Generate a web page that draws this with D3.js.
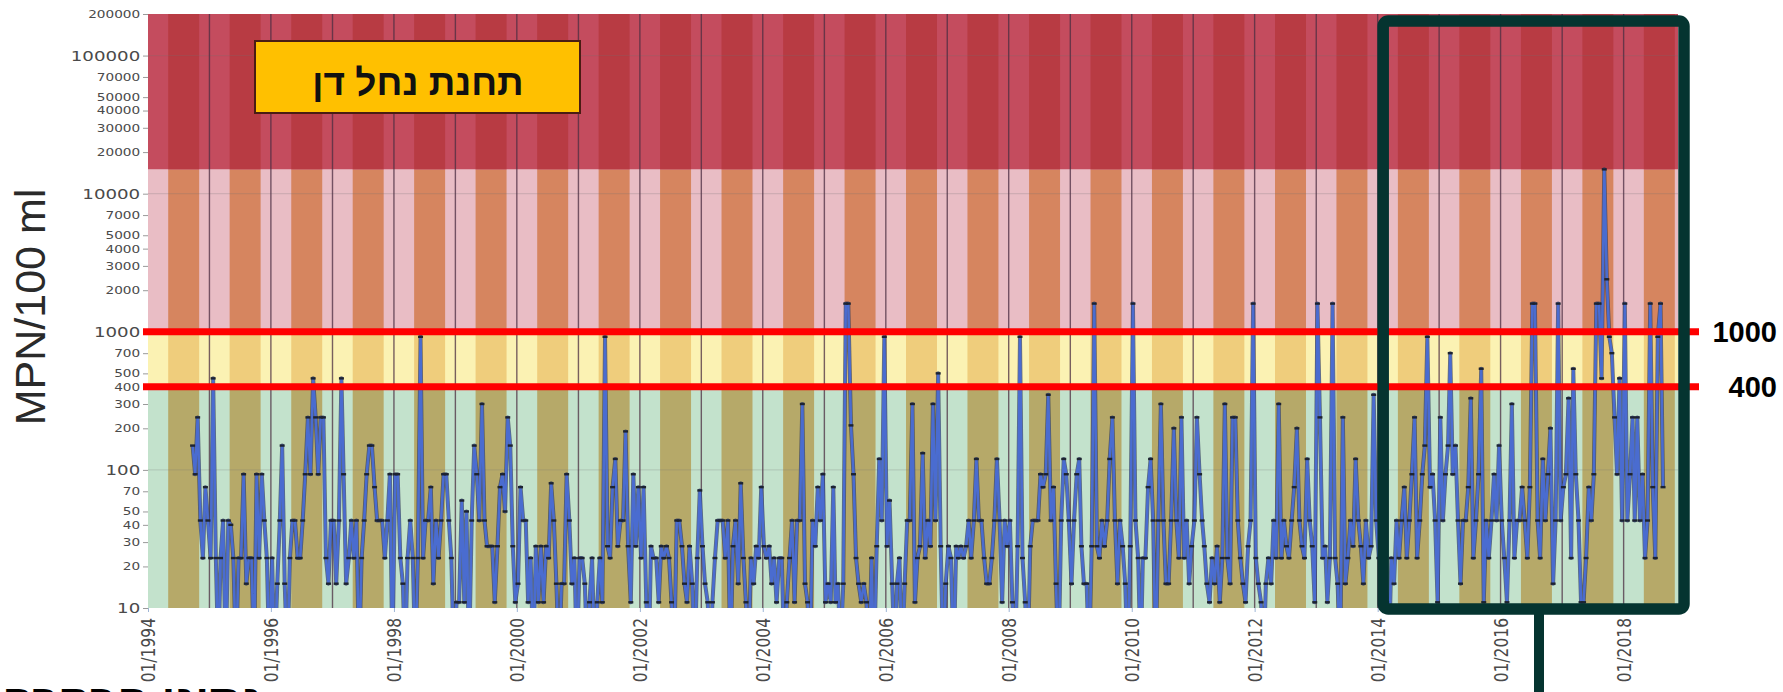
<!DOCTYPE html>
<html>
<head>
<meta charset="utf-8">
<script src="https://cdn.jsdelivr.net/npm/d3@7"></script>
<style>
  html, body { margin: 0; padding: 0; background: #ffffff; overflow: hidden; }
  svg { display: block; }
</style>
</head>
<body>
<svg id="chart" width="1783" height="692"></svg>
<script>
// Faecal coliform counts (MPN/100 ml), two samples per month (8th and 23rd).
// Each yearly list starts at the half-month slot given in `yearly` below.
const v1994 = [150, 93, 240, 43, 23, 75, 43];
const v1995 = [23, 460, 23, 4, 23, 43, 4, 43, 40, 23, 4, 23, 23, 93, 15, 23, 23, 4, 93, 23, 93, 43, 23, 4];
const v1996 = [23, 4, 15, 43, 150, 15, 4, 23, 43, 43, 23, 23, 43, 93, 240, 93, 460, 240, 93, 240, 240, 23, 15, 43];
const v1997 = [43, 15, 43, 460, 93, 15, 23, 43, 23, 43, 4, 23, 43, 93, 150, 150, 75, 43, 43, 43, 23, 43, 93, 4];
const v1998 = [93, 93, 23, 15, 4, 23, 43, 23, 4, 23, 920, 23, 43, 43, 75, 15, 43, 23, 43, 93, 93, 43, 23, 4];
const v1999 = [11, 11, 60, 11, 50, 4, 43, 150, 93, 43, 300, 43, 28, 28, 28, 11, 28, 75, 93, 50, 240, 150, 28, 11];
const v2000 = [15, 75, 43, 43, 11, 23, 4, 28, 11, 28, 11, 28, 23, 80, 43, 15, 4, 15, 15, 93, 43, 15, 23, 4];
const v2001 = [23, 23, 15, 4, 11, 23, 4, 11, 23, 11, 920, 28, 23, 75, 120, 28, 43, 43, 190, 28, 11, 93, 28, 75];
const v2002 = [23, 75, 11, 4, 28, 23, 23, 11, 28, 23, 28, 23, 11, 4, 43, 43, 28, 15, 11, 28, 15, 4, 23, 71];
const v2003 = [28, 15, 11, 4, 11, 23, 43, 43, 43, 23, 43, 4, 28, 43, 15, 80, 23, 11, 4, 23, 15, 28, 23, 75];
const v2004 = [28, 23, 28, 15, 23, 11, 23, 23, 4, 11, 23, 43, 11, 43, 43, 300, 15, 11, 4, 43, 28, 75, 43, 93];
const v2005 = [11, 15, 11, 75, 11, 15, 4, 15, 1600, 1600, 210, 93, 23, 15, 11, 15, 11, 4, 23, 4, 28, 120, 43, 920];
const v2006 = [28, 60, 15, 4, 15, 23, 4, 15, 43, 43, 300, 11, 23, 28, 132, 23, 43, 28, 300, 43, 500, 28, 4, 15];
const v2007 = [28, 23, 4, 28, 23, 28, 23, 28, 43, 23, 43, 120, 43, 43, 23, 15, 15, 23, 43, 120, 43, 11, 43, 28];
const v2008 = [43, 11, 4, 28, 920, 23, 11, 4, 28, 43, 43, 43, 93, 75, 93, 350, 43, 75, 15, 4, 43, 120, 93, 43];
const v2009 = [15, 43, 93, 120, 28, 15, 15, 4, 28, 1600, 28, 23, 43, 28, 43, 120, 240, 43, 15, 43, 28, 15, 4, 28];
const v2010 = [1600, 43, 23, 4, 23, 23, 75, 120, 43, 4, 43, 300, 43, 15, 15, 43, 200, 43, 23, 240, 23, 43, 15, 28];
const v2011 = [43, 240, 93, 43, 28, 15, 11, 23, 15, 28, 11, 23, 300, 23, 15, 240, 240, 43, 23, 15, 11, 28, 43, 1600];
const v2012 = [23, 15, 11, 4, 15, 23, 15, 43, 23, 300, 23, 43, 28, 23, 43, 75, 200, 43, 28, 23, 120, 43, 28, 11];
const v2013 = [1600, 240, 23, 28, 11, 23, 1600, 23, 15, 4, 240, 15, 23, 43, 28, 120, 43, 28, 15, 43, 23, 28, 350, 43];
const v2014 = [23, 43, 23, 11, 4, 23, 15, 43, 23, 43, 75, 23, 43, 93, 240, 23, 43, 93, 150, 920, 75, 93, 43, 11];
const v2015 = [240, 43, 93, 150, 700, 93, 150, 43, 15, 43, 43, 75, 330, 23, 43, 93, 540, 11, 43, 23, 43, 93, 43, 150];
const v2016 = [43, 23, 11, 43, 300, 23, 43, 43, 75, 43, 23, 75, 1600, 1600, 43, 23, 120, 43, 93, 200, 15, 43, 1600, 43];
const v2017 = [75, 93, 330, 23, 540, 93, 43, 11, 11, 23, 75, 43, 93, 1600, 1600, 460, 15000, 2400, 920, 700, 240, 93, 460, 43];
const v2018 = [1600, 43, 93, 240, 43, 240, 43, 93, 23, 43, 1600, 75, 23, 920, 1600, 75];

// [year, values, first half-month slot]
const yearly = [
  [1994, v1994, 17], [1995, v1995, 0], [1996, v1996, 0], [1997, v1997, 0], [1998, v1998, 0],
  [1999, v1999, 0], [2000, v2000, 0], [2001, v2001, 0], [2002, v2002, 0], [2003, v2003, 0],
  [2004, v2004, 0], [2005, v2005, 0], [2006, v2006, 0], [2007, v2007, 0], [2008, v2008, 0],
  [2009, v2009, 0], [2010, v2010, 0], [2011, v2011, 0], [2012, v2012, 0], [2013, v2013, 0],
  [2014, v2014, 0], [2015, v2015, 0], [2016, v2016, 0], [2017, v2017, 0], [2018, v2018, 0]
];

// Quality zones (MPN/100 ml) and the thresholds marked in red
const bandLimits = [10, 400, 1000, 15000, 200000];
const thresholds = [1000, 400];

// Seasons shaded behind the series (dry season May–October)
const seasonYears = [1994, 1995, 1996, 1997, 1998, 1999, 2000, 2001, 2002, 2003, 2004, 2005,
  2006, 2007, 2008, 2009, 2010, 2011, 2012, 2013, 2014, 2015, 2016, 2017, 2018];

// Axis ticks
const yTickValues = [10, 20, 30, 40, 50, 70, 100, 200, 300, 400, 500, 700, 1000, 2000, 3000, 4000,
  5000, 7000, 10000, 20000, 30000, 40000, 50000, 70000, 100000, 200000];
const yMajorTicks = [10, 100, 1000, 10000, 100000];
const xTickLabels = ["01/1994", "01/1996", "01/1998", "01/2000", "01/2002", "01/2004", "01/2006",
  "01/2008", "01/2010", "01/2012", "01/2014", "01/2016", "01/2018"];

const stationName = "תחנת נחל דן";
const footerText = "נתוני הבקרה";
const yTitle = "MPN/100 ml";

// ---------------------------------------------------------------------------
const samples = [];
yearly.forEach(([yr, vals, first]) => {
  vals.forEach((v, k) => {
    const slot = first + k;
    samples.push({ date: new Date(yr, Math.floor(slot / 2), slot % 2 === 0 ? 8 : 23), value: v });
  });
});

const plot = { left: 148, right: 1678, top: 14, bottom: 608 };
const svg = d3.select("#chart");

const x = d3.scaleTime()
  .domain([new Date(1994, 0, 1), new Date(2018, 10, 20)])
  .range([plot.left, plot.right]);
const y = d3.scaleLog()
  .domain([10, 200000])
  .range([plot.bottom, plot.top]);

svg.append("defs").append("clipPath").attr("id", "plotClip")
  .append("rect")
  .attr("x", plot.left).attr("y", plot.top)
  .attr("width", plot.right - plot.left).attr("height", plot.bottom - plot.top);

// zone colours, bottom to top: [wet season, dry season]
const zoneColors = [
  ["#c3e2cc", "#b6a969"],
  ["#fbf2b3", "#efcd7c"],
  ["#e9bdc5", "#d6855f"],
  ["#c44c5e", "#b83b43"]
];

const bg = svg.append("g").attr("clip-path", "url(#plotClip)");
d3.pairs(bandLimits).forEach(([lo, hi], i) => {
  bg.append("rect")
    .attr("x", plot.left).attr("width", plot.right - plot.left)
    .attr("y", y(hi)).attr("height", y(lo) - y(hi))
    .attr("fill", zoneColors[i][0]);
  bg.selectAll(null).data(seasonYears).join("rect")
    .attr("x", d => x(new Date(d, 4, 1)))
    .attr("width", d => x(new Date(d, 10, 1)) - x(new Date(d, 4, 1)))
    .attr("y", y(hi)).attr("height", y(lo) - y(hi))
    .attr("fill", zoneColors[i][1]);
});

// faint decade grid
bg.selectAll(null).data(yMajorTicks.slice(1)).join("line")
  .attr("x1", plot.left).attr("x2", plot.right)
  .attr("y1", d => y(d)).attr("y2", d => y(d))
  .attr("stroke", "rgba(110,110,110,0.25)").attr("stroke-width", 1);

// year separators
bg.selectAll(null).data(seasonYears.slice(1)).join("line")
  .attr("x1", d => x(new Date(d, 0, 1))).attr("x2", d => x(new Date(d, 0, 1)))
  .attr("y1", plot.top).attr("y2", plot.bottom)
  .attr("stroke", "rgba(75,45,65,0.75)").attr("stroke-width", 1.4);

// series
const line = d3.line().x(d => x(d.date)).y(d => y(d.value));
const dataG = svg.append("g").attr("clip-path", "url(#plotClip)");
dataG.append("path").datum(samples)
  .attr("d", line).attr("fill", "none")
  .attr("stroke", "rgba(45,55,85,0.7)").attr("stroke-width", 4)
  .attr("stroke-linejoin", "round");
dataG.append("path").datum(samples)
  .attr("d", line).attr("fill", "none")
  .attr("stroke", "#4a6cd0").attr("stroke-width", 2.6)
  .attr("stroke-linejoin", "round");
dataG.selectAll(null).data(samples).join("rect")
  .attr("x", d => x(d.date) - 2.5).attr("y", d => y(d.value) - 1.2)
  .attr("width", 5).attr("height", 2.4)
  .attr("fill", "#1d2331");

// y axis
const yAxis = svg.append("g")
  .attr("transform", `translate(${plot.left},0)`)
  .call(d3.axisLeft(y).tickValues(yTickValues).tickFormat(d3.format("d")).tickSize(5));
yAxis.select(".domain").remove();
yAxis.selectAll(".tick line").attr("stroke", "#9a9a9a");
yAxis.selectAll(".tick text")
  .attr("fill", "#4a4a4a")
  .attr("font-family", "DejaVu Sans, sans-serif")
  .attr("font-size", d => yMajorTicks.includes(d) ? 14 : 10.5)
  .attr("x", -6)
  .attr("transform", "scale(1.3,1)");

// x axis
const xAxis = svg.append("g")
  .attr("transform", `translate(0,${plot.bottom})`)
  .call(d3.axisBottom(x)
    .tickValues(xTickLabels.map(s => new Date(+s.slice(3), +s.slice(0, 2) - 1, 1)))
    .tickFormat((d, i) => xTickLabels[i])
    .tickSize(4));
xAxis.select(".domain").remove();
xAxis.selectAll(".tick line").attr("stroke", "#9fb6d6");
xAxis.selectAll(".tick text")
  .attr("fill", "#4a4a4a")
  .attr("font-family", "DejaVu Sans, sans-serif")
  .attr("font-size", 15.5)
  .attr("text-anchor", "end")
  .attr("x", 0).attr("y", 0).attr("dy", "0.35em")
  .attr("transform", "translate(0,10) scale(1.2,1) rotate(-90)");

// y axis title
svg.append("text")
  .attr("transform", "translate(45,307) rotate(-90)")
  .attr("text-anchor", "middle")
  .attr("font-family", "Liberation Sans, Arial, sans-serif")
  .attr("font-size", 43)
  .attr("fill", "#2a2a2a")
  .text(yTitle);

// threshold lines
svg.selectAll(null).data(thresholds).join("line")
  .attr("x1", 143).attr("x2", 1699)
  .attr("y1", d => y(d)).attr("y2", d => y(d))
  .attr("stroke", "#ff0000").attr("stroke-width", 7);
svg.selectAll(null).data(thresholds).join("text")
  .attr("x", 1777).attr("y", d => y(d) + 10)
  .attr("text-anchor", "end")
  .attr("font-family", "Liberation Sans, Arial, sans-serif")
  .attr("font-weight", "bold")
  .attr("font-size", 29)
  .attr("fill", "#000")
  .text(d => d);

// highlighted period 2014–2018
const boxLeft = x(new Date(2014, 0, 1)) + 5.5;
svg.append("rect")
  .attr("x", boxLeft).attr("y", 21)
  .attr("width", 1684 - boxLeft).attr("height", 588)
  .attr("rx", 5)
  .attr("fill", "none").attr("stroke", "#053430").attr("stroke-width", 11.5);
svg.append("line")
  .attr("x1", 1539).attr("x2", 1539).attr("y1", 612).attr("y2", 692)
  .attr("stroke", "#053430").attr("stroke-width", 10);

// station label
svg.append("rect")
  .attr("x", 255).attr("y", 41).attr("width", 325).attr("height", 72)
  .attr("fill", "#ffc000").attr("stroke", "#4a1c14").attr("stroke-width", 2);
svg.append("text")
  .attr("x", 418).attr("y", 95)
  .attr("text-anchor", "middle")
  .attr("font-family", "Liberation Sans, Arial, sans-serif")
  .attr("font-weight", "bold")
  .attr("font-size", 37)
  .attr("fill", "#111")
  .text(stationName);

// footer caption (runs off the bottom edge)
svg.append("text")
  .attr("x", 262).attr("y", 717)
  .attr("text-anchor", "end")
  .attr("font-family", "Liberation Sans, Arial, sans-serif")
  .attr("font-weight", "bold")
  .attr("font-size", 46)
  .attr("fill", "#000")
  .text(footerText);
</script>
</body>
</html>
